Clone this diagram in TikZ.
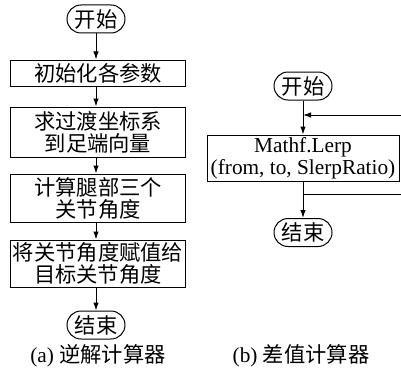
\documentclass[tikz,border=0pt]{standalone}
\usepackage{fontspec}
\setmainfont{Liberation Serif}
\newfontfamily\cjk{Noto Sans CJK SC}
\usetikzlibrary{shapes.misc,arrows.meta}
\tikzset{
  base/.style={draw=black, line width=1pt, inner sep=0pt, align=center,
    font=\fontsize{21.3}{22}\selectfont},
  procbox/.style={base, rectangle, minimum width=175pt},
  term/.style={base, rounded rectangle, minimum width=58pt, minimum height=28pt},
  arr/.style={line width=1pt, -{Latex[length=8pt,width=5.5pt]}},
  ln/.style={line width=1pt},
  captext/.style={inner sep=0pt, font=\fontsize{21.3}{22}\selectfont}
}
\begin{document}
\begin{tikzpicture}[x=1pt,y=-1pt]
\useasboundingbox (0,0) rectangle (401,369);
% left flowchart
\node[term] (s1) at (96,19) {\cjk 开始};
\node[procbox, minimum height=26pt] (b1) at (98,73) {\cjk 初始化各参数};
\node[procbox, minimum height=50pt] (b2) at (98,132) {\cjk 求过渡坐标系\\\cjk 到足端向量};
\node[procbox, minimum height=48pt] (b3) at (98,198) {\cjk 计算腿部三个\\\cjk 关节角度};
\node[procbox, minimum height=47pt] (b4) at (98,263.5) {\cjk 将关节角度赋值给\\\cjk 目标关节角度};
\node[term] (e1) at (96,325) {\cjk 结束};
\node[captext] (ca) at (98,356) {(a) {\cjk 逆解计算器}};
\draw[arr] (s1.south) -- (s1.south |- b1.north);
\draw[arr] (b1.south -| s1.south) -- (s1.south |- b2.north);
\draw[arr] (b2.south -| s1.south) -- (s1.south |- b3.north);
\draw[arr] (b3.south -| s1.south) -- (s1.south |- b4.north);
\draw[arr] (b4.south -| s1.south) -- (e1.north);
% right flowchart
\node[term] (s2) at (303,86) {\cjk 开始};
\node[procbox, minimum width=192pt, minimum height=46pt] (lerp) at (303,158) {Mathf.Lerp\\(from, to, SlerpRatio)};
\node[term] (e2) at (303,232.5) {\cjk 结束};
\node[captext] (cb) at (301,356) {(b) {\cjk 差值计算器}};
\coordinate (j1) at (303,115);
\coordinate (j2) at (303,194);
\coordinate (r1) at (402,115);
\coordinate (r2) at (402,194);
\draw[arr] (s2.south) -- (lerp.north);
\draw[arr] (r1) -- (j1);
\draw[arr] (lerp.south) -- (e2.north);
\draw[ln] (j2) -- (r2);
\end{tikzpicture}
\end{document}
